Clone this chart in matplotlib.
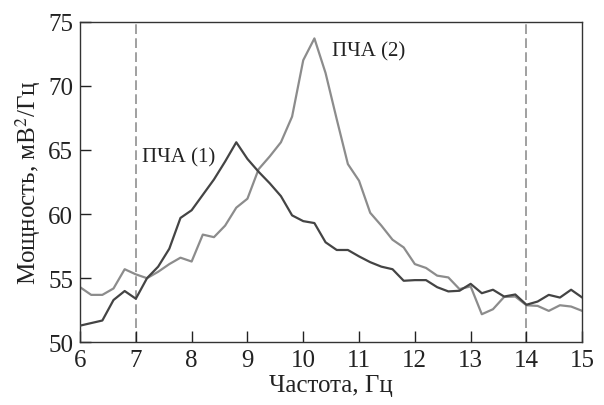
import numpy as np
import matplotlib
matplotlib.use("Agg")
import matplotlib.pyplot as plt

# frequency grid, Hz
freq = np.round(np.arange(6.0, 15.01, 0.2), 1)

# ПЧА (1), dark curve
pcha1 = [51.3, 51.5, 51.7, 53.3, 54.0, 53.4, 55.0, 55.9, 57.3, 59.7,
         60.3, 61.5, 62.7, 64.1, 65.6, 64.3, 63.3, 62.4, 61.4, 59.9,
         59.45, 59.3, 57.8, 57.2, 57.2, 56.7, 56.25, 55.9, 55.7, 54.8,
         54.85, 54.85, 54.3, 53.97, 54.02, 54.56, 53.83, 54.1, 53.57, 53.73,
         52.93, 53.18, 53.7, 53.49, 54.1, 53.49]

# ПЧА (2), light curve
pcha2 = [54.3, 53.7, 53.7, 54.2, 55.7, 55.3, 55.0, 55.5, 56.1, 56.6,
         56.3, 58.4, 58.2, 59.1, 60.5, 61.2, 63.5, 64.5, 65.6, 67.6,
         72.0, 73.7, 71.0, 67.4, 63.9, 62.6, 60.1, 59.1, 58.0, 57.4,
         56.1, 55.8, 55.2, 55.06, 54.15, 54.36, 52.19, 52.58, 53.54, 53.57,
         52.89, 52.84, 52.45, 52.89, 52.79, 52.45]

xticks = [6, 7, 8, 9, 10, 11, 12, 13, 14, 15]
yticks = [50, 55, 60, 65, 70, 75]
band = [7, 14]

plt.rcParams['font.family'] = ['Liberation Serif', 'DejaVu Serif']
plt.rcParams['mathtext.fontset'] = 'stix'

fig = plt.figure(figsize=(6.04, 4.06), dpi=100)
ax = fig.add_axes([0.1325, 0.1544, 0.8315, 0.7896])

for b in band:
    ax.axvline(b, color='#a0a0a0', lw=1.4, ls=(0, (5, 2.2)), zorder=1)

ax.plot(freq, pcha2, color='#8c8c8c', lw=1.6, zorder=2)
ax.plot(freq, pcha1, color='#444444', lw=1.6, zorder=3)

ax.text(7.11, 64.45, 'ПЧА (1)', fontsize=15, color='#222222', va='center')
ax.text(10.52, 72.7, 'ПЧА (2)', fontsize=15, color='#222222', va='center')

ax.set_xlim(6, 15)
ax.set_ylim(50, 75)
ax.set_xticks(xticks)
ax.set_yticks(yticks)
ax.tick_params(direction='in', length=8, width=1, labelsize=18,
               colors='#222222', top=False, right=False, pad=5)
for s in ax.spines.values():
    s.set_color('#333333')
    s.set_linewidth(1.0)

ax.set_xlabel('Частота, Гц', fontsize=18, color='#222222', labelpad=2)
ax.set_ylabel('Мощность, мВ$^2$/Гц', fontsize=18, color='#222222', labelpad=4)

fig.savefig('out.png', dpi=100)
